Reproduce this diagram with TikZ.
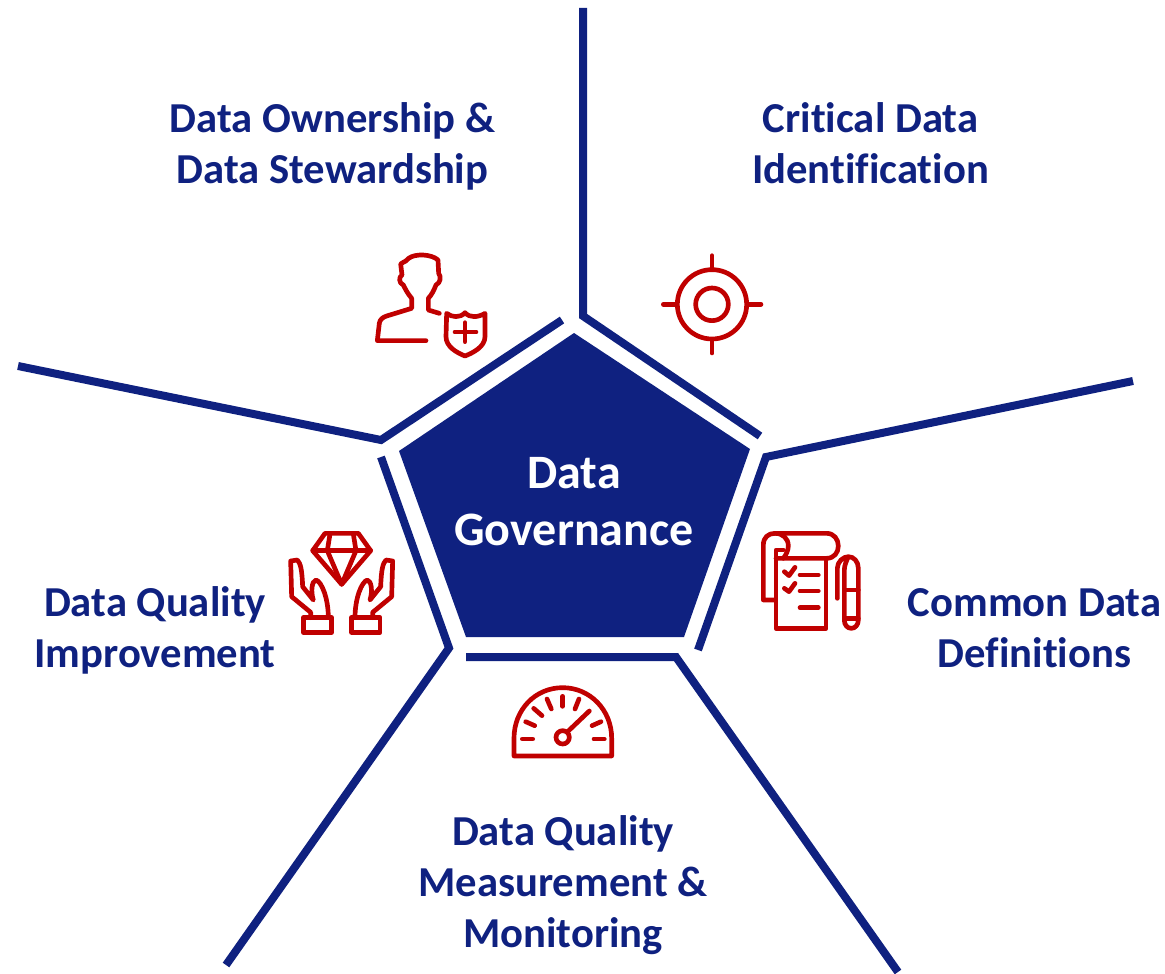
\documentclass[tikz,border=0pt]{standalone}
\usepackage{fontspec}
\setmainfont{Carlito}[Ligatures=NoCommon]
\usepackage{tikz}
\usetikzlibrary{calc,positioning}
\definecolor{navy}{HTML}{0F2180}
\definecolor{iconred}{HTML}{C00000}
\tikzstyle{wall}=[
  draw=navy,
  line width=6pt,
  miter limit=10,
]
\tikzstyle{core}=[
  draw=none,
  fill=navy,
]
\tikzstyle{topic}=[
  align=center,
  font={\fontsize{32}{38.3}\selectfont\bfseries},
  inner sep=0pt,
  text=navy,
]
\tikzstyle{coretext}=[
  align=center,
  font={\fontsize{36}{42.8}\selectfont\bfseries},
  inner sep=0pt,
  text=white,
]
\tikzstyle{icon}=[
  draw=iconred,
  line width=3.5pt,
  line cap=round,
  line join=round,
]
\begin{document}
\begin{tikzpicture}[x=.75pt,y=-.75pt]
    \useasboundingbox (0,0) rectangle (1165,974);
    %% centre
    \coordinate (P1) at (574,333);
    \coordinate (P2) at (750,449);
    \coordinate (P3) at (684,637);
    \coordinate (P4) at (466,637);
    \coordinate (P5) at (399,451);
    \draw [core] (P1) -- (P2) -- (P3) -- (P4) -- (P5) -- cycle;
    \node (governance) [coretext] at (574,502) {Data\\Governance};
    %% sectors
    \coordinate (TRa) at (583,8);
    \coordinate (TRb) at (583,316);
    \coordinate (TRc) at (760,436);
    \coordinate (RBa) at (1133,381);
    \coordinate (RBb) at (766,457);
    \coordinate (RBc) at (698,650);
    \coordinate (BRa) at (898,972);
    \coordinate (BRb) at (676,657);
    \coordinate (BRc) at (466,657);
    \coordinate (BLa) at (226,965);
    \coordinate (BLb) at (449,648);
    \coordinate (BLc) at (381,457);
    \coordinate (TLa) at (18,366);
    \coordinate (TLb) at (381,440);
    \coordinate (TLc) at (562,320);
    \draw [wall] (TRa) -- (TRb) -- (TRc);
    \draw [wall] (RBa) -- (RBb) -- (RBc);
    \draw [wall] (BRa) -- (BRb) -- (BRc);
    \draw [wall] (BLa) -- (BLb) -- (BLc);
    \draw [wall] (TLa) -- (TLb) -- (TLc);
    %% labels
    \node (ownership) [topic] at (332.5,146) {Data Ownership \&\\Data Stewardship};
    \node (critical) [topic] at (870.5,143) {Critical Data\\Identification};
    \node (common) [topic] at (1034.5,628) {Common Data\\Definitions};
    \node (improvement) [topic] at (155,630) {Data Quality\\Improvement};
    \node (measurement) [topic] at (563,885) {Data Quality\\Measurement \&\\Monitoring};
    %% person and shield
    \begin{scope}[shift={(350,240)},scale=1/3]
      \draw [icon] (228,302) -- (82,302) -- (88,250) .. controls (90,238) and (98,232) .. (110,228)
        -- (185,205) -- (185,175) .. controls (172,160) and (165,145) .. (160,135)
        .. controls (146,130) and (146,110) .. (156,105) -- (152,72)
        .. controls (165,62) and (170,65) .. (176,55) .. controls (195,40) and (245,42) .. (264,60)
        -- (266,100) .. controls (274,110) and (272,128) .. (258,135)
        .. controls (252,150) and (245,165) .. (235,175) -- (235,210) -- (268,220);
      \draw [icon] (290,220) .. controls (305,232) and (330,235) .. (345,218)
        .. controls (360,235) and (385,232) .. (405,220) -- (405,290)
        .. controls (405,320) and (370,338) .. (345,348)
        .. controls (320,338) and (288,320) .. (288,290) -- cycle;
      \draw [icon] (345,248) -- (345,305);
      \draw [icon] (315,276) -- (378,276);
    \end{scope}
    %% target
    \begin{scope}[shift={(650,245)},scale=1/3]
      \draw [icon] (186,178) circle [radius=104];
      \draw [icon] (186,178) circle [radius=49];
      \draw [icon] (186,32) -- (186,70);
      \draw [icon] (186,288) -- (186,324);
      \draw [icon] (40,178) -- (78,178);
      \draw [icon] (297,178) -- (333,178);
    \end{scope}
    %% checklist and pen
    \begin{scope}[shift={(750,520)},scale=1/3]
      \draw [icon] (75,240) -- (40,240) -- (40,75) .. controls (40,52) and (55,40) .. (75,40)
        -- (230,40) .. controls (252,40) and (265,58) .. (265,78)
        .. controls (265,98) and (252,115) .. (230,115) -- (78,115);
      \draw [icon] (75,40) .. controls (98,40) and (115,55) .. (115,78)
        .. controls (115,90) and (108,105) .. (100,115);
      \draw [icon] (100,90) -- (78,90) -- (78,325) -- (228,325) -- (228,115);
      \draw [icon] (103,155) -- (117,167) -- (135,142);
      \draw [icon] (103,205) -- (117,215) -- (135,190);
      \draw [icon] (150,165) -- (205,165);
      \draw [icon] (150,213) -- (205,213);
      \draw [icon] (150,263) -- (205,263);
      \draw [icon] (262,235) -- (262,145) .. controls (262,125) and (280,110) .. (295,110)
        .. controls (312,110) and (325,125) .. (325,145) -- (325,300)
        .. controls (325,315) and (315,325) .. (304,325)
        .. controls (292,325) and (283,315) .. (283,300) -- (283,150)
        .. controls (283,135) and (290,122) .. (295,110);
      \draw [icon] (283,210) -- (325,210);
      \draw [icon] (283,295) -- (325,295);
    \end{scope}
    %% gauge
    \begin{scope}[shift={(500,675)},scale=1/3]
      \draw [icon] (42,243) -- (42,190) .. controls (42,105) and (105,38) .. (188,38)
        .. controls (270,38) and (335,105) .. (335,190) -- (335,243) -- cycle;
      \draw [icon] (188,187) circle [radius=20];
      \draw [icon] (205,168) -- (268,108);
      \draw [icon] (67,192) -- (98,192);
      \draw [icon] (282,192) -- (313,192);
      \draw [icon] (77,140) -- (104,152);
      \draw [icon] (101,100) -- (126,122);
      \draw [icon] (141,72) -- (154,102);
      \draw [icon] (188,64) -- (188,94);
      \draw [icon] (237,72) -- (225,102);
      \draw [icon] (303,140) -- (276,152);
    \end{scope}
    %% hands and gem
    \begin{scope}[shift={(280,525)},scale=1/3]
      \draw [icon] (135,25) -- (235,25) -- (272,77) -- (185,178) -- (98,77) -- cycle;
      \draw [icon] (98,77) -- (272,77);
      \draw [icon] (150,27) -- (142,77) -- (185,178) -- (228,77) -- (220,27);
      \draw [icon] (70,278) -- (155,278) -- (155,322) -- (70,322) -- cycle;
      \draw [icon] (92,278) -- (92,262) -- (35,215) -- (32,108) -- (52,105)
        .. controls (62,115) and (66,135) .. (68,185) -- (100,225)
        .. controls (92,200) and (95,168) .. (108,165)
        .. controls (125,170) and (145,220) .. (145,278);
      \draw [icon] (215,278) -- (300,278) -- (300,322) -- (215,322) -- cycle;
      \draw [icon] (278,278) -- (278,262) -- (335,215) -- (338,108) -- (318,105)
        .. controls (308,115) and (304,135) .. (302,185) -- (270,225)
        .. controls (278,200) and (275,168) .. (262,165)
        .. controls (245,170) and (225,220) .. (225,278);
    \end{scope}
\end{tikzpicture}
\end{document}
